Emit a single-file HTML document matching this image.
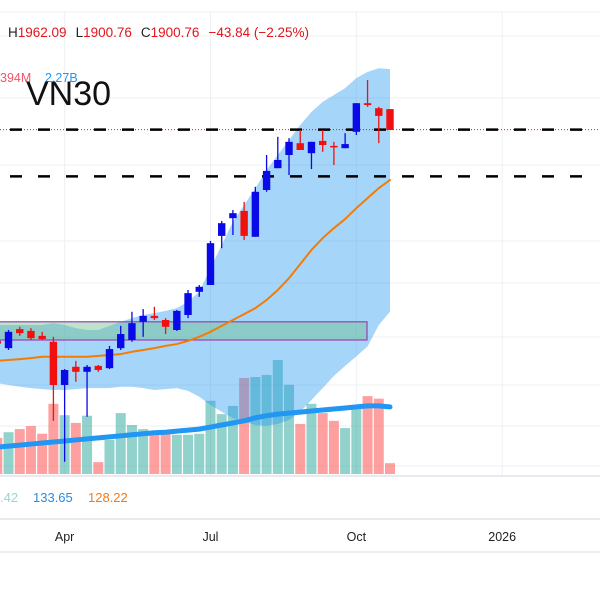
<!DOCTYPE html>
<html><head><meta charset="utf-8"><style>
html,body{margin:0;padding:0;background:#fff;}
body{width:600px;height:600px;overflow:hidden;position:relative;font-family:"Liberation Sans","DejaVu Sans",sans-serif;}
svg{position:absolute;left:0;top:0;}
</style></head><body>
<svg id="chart" width="600" height="600" viewBox="0 0 600 600">
  <g id="grid"></g>
  <g id="vol"></g>
  <g id="band"></g>
  <g id="rect"></g>
  <g id="ma"></g>
  <g id="levels"></g>
  <g id="candles"></g>
  <g id="texts">
    <text x="8" y="37" font-size="13.5"><tspan fill="#222">H</tspan><tspan fill="#e0161d">1962.09</tspan><tspan fill="#222" dx="9">L</tspan><tspan fill="#e0161d">1900.76</tspan><tspan fill="#222" dx="9">C</tspan><tspan fill="#e0161d">1900.76</tspan><tspan fill="#e0161d" dx="9">−43.84 (−2.25%)</tspan></text>
    <text x="0" y="82" font-size="12.5" fill="#f0566a">394M</text>
    <text x="45" y="82" font-size="12.5" fill="#2196f3">2.27B</text>
    <text x="26" y="105" font-size="34" fill="#111">VN30</text>
    <text x="0" y="502" font-size="13" fill="#9fd3ce">.42</text>
    <text x="33" y="502" font-size="13" fill="#2a8ae6">133.65</text>
    <text x="88" y="502" font-size="13" fill="#f07a1c">128.22</text>
  </g>
  <g id="xaxis"></g>
</svg>
<script>
const NS="http://www.w3.org/2000/svg";
const opens=[1436,1420,1462,1458,1447,1434,1339,1379,1368,1381,1376,1420,1438,1478,1491,1482,1460,1493,1544,1559,1667,1706,1722,1665,1768,1816,1845,1871,1849,1876,1865,1860,1896,1959,1948,1946];
const highs=[1440,1460,1467,1464,1456,1445,1374,1392,1383,1383,1425,1469,1500,1506,1511,1486,1504,1548,1559,1656,1700,1724,1742,1775,1845,1885,1882,1900,1874,1900,1874,1893,1959,2010,1951,1946];
const lows=[1425,1416,1447,1438,1438,1260,1170,1346,1269,1368,1374,1416,1434,1445,1482,1451,1458,1486,1533,1559,1640,1669,1658,1665,1764,1816,1801,1856,1814,1852,1823,1860,1889,1951,1871,1900];
const closes=[1430,1456,1453,1442,1440,1339,1372,1368,1379,1372,1418,1451,1475,1491,1486,1467,1502,1541,1555,1651,1695,1717,1667,1764,1810,1834,1874,1856,1874,1867,1863,1869,1959,1955,1931,1900];
const volumes=[70,81,87,93,78,136,114,99,113,23,66,118,95,87,80,80,76,76,78,142,116,132,186,188,192,221,173,97,136,118,103,89,132,151,146,21];
const volumeMA=[52,54,56,58,60,62,64,66,68,70,72,74,76,78,80,81,83,85,87,91,95,99,103,109,113,116,118,120,122,124,126,128,130,132,132,130];
const bandUpper=[1471,1471,1471,1471,1471,1475,1471,1464,1460,1460,1469,1478,1486,1493,1497,1502,1508,1522,1544,1596,1647,1698,1735,1772,1812,1845,1878,1911,1940,1962,1977,1992,2014,2028,2036,2034];
const bandLower=[1343,1339,1335,1332,1330,1328,1328,1330,1332,1332,1332,1335,1335,1332,1328,1330,1332,1326,1313,1295,1280,1266,1258,1251,1249,1253,1262,1280,1306,1332,1359,1381,1402,1424,1471,1500];
const priceMA=[1392,1394,1396,1398,1401,1401,1401,1401,1401,1403,1405,1407,1412,1416,1420,1425,1429,1436,1445,1456,1469,1482,1495,1508,1526,1548,1574,1605,1636,1662,1684,1704,1728,1750,1772,1790];
const levelPrices=[1900.76,1798];
const zoneTop=1478, zoneBottom=1438;
const xLabels=["Apr","Jul","Oct","2026"];
const xLabelIdx=[6,19,32,45];

const X=i=>-2.7+i*11.22;
const Y=p=>130-(p-1900)*0.4545;
const VY=v=>474-v*0.516;

function mk(tag,attrs,parent){const e=document.createElementNS(NS,tag);for(const k in attrs)e.setAttribute(k,attrs[k]);parent.appendChild(e);return e;}
const g=id=>document.getElementById(id);

[12,36,98,165,241,283,337,385,426,466].forEach(y=>{const l=mk('line',{x1:0,x2:600,y1:y,y2:y,stroke:'#eeeff2','stroke-width':1},g('grid'));

});
xLabelIdx.forEach(i=>{const l=mk('line',{x1:X(i),x2:X(i),y1:12,y2:476,stroke:'#eeeff2','stroke-width':1},g('grid'));

});
[[476,'#e0e3eb'],[519,'#e0e3eb'],[552,'#e6e8ee']].forEach(a=>{const l=mk('line',{x1:0,x2:600,y1:a[0],y2:a[0],stroke:a[1],'stroke-width':1.5},g('grid'));

});

volumes.forEach((v,i)=>{const up=closes[i]>=opens[i];
const r=mk('rect',{x:X(i)-5,y:VY(v),width:10,height:474-VY(v),fill:up?'rgba(38,166,154,0.5)':'rgba(255,82,82,0.55)'},g('vol'));

});

let d='M'+X(0)+','+Y(bandUpper[0]);
for(let i=1;i<bandUpper.length;i++)d+=' L'+X(i)+','+Y(bandUpper[i]);
for(let i=bandLower.length-1;i>=0;i--)d+=' L'+X(i)+','+Y(bandLower[i]);
const bp=mk('path',{d:d+' Z',fill:'rgba(33,150,243,0.4)'},g('band'));



const zr=mk('rect',{x:-2,y:Y(zoneTop),width:369,height:Y(zoneBottom)-Y(zoneTop),fill:'rgba(110,190,140,0.45)',stroke:'#a03cb4','stroke-width':1.2},g('rect'));



const line=(arr,fy,col,w,name)=>{const pts=arr.map((v,i)=>X(i)+','+fy(v)).join(' ');
const p=mk('polyline',{points:pts,fill:'none',stroke:col,'stroke-width':w,'stroke-linecap':'round','stroke-linejoin':'round'},g('ma'));

};
line(priceMA,Y,'#f57c00',2,'price-ma-line');
line(volumeMA,VY,'#2196f3',5,'volume-ma-line');

const dl=mk('line',{x1:0,x2:600,y1:Y(levelPrices[0]),y2:Y(levelPrices[0]),stroke:'#e0161d','stroke-width':1,'stroke-dasharray':'1 2'},g('levels'));


levelPrices.forEach(p=>{const l=mk('line',{x1:10,x2:592,y1:Y(p),y2:Y(p),stroke:'#000','stroke-width':2.5,'stroke-dasharray':'12 16'},g('levels'));

});

opens.forEach((o,i)=>{const c=closes[i],up=c>=o,col=up?'#0a0ae8':'#f01010';
const w=mk('line',{x1:X(i),x2:X(i),y1:Y(highs[i]),y2:Y(lows[i]),stroke:col,'stroke-width':1.3},g('candles'));


const top=Y(Math.max(o,c)),bot=Y(Math.min(o,c));
const b=mk('rect',{x:X(i)-3.7,y:top,width:7.4,height:Math.max(1.5,bot-top),fill:col},g('candles'));

});

xLabels.forEach((t,k)=>{const e=mk('text',{x:X(xLabelIdx[k]),y:541,'font-size':12.5,fill:'#222','text-anchor':'middle'},g('xaxis'));
e.textContent=t;

});
</script>
</body></html>
